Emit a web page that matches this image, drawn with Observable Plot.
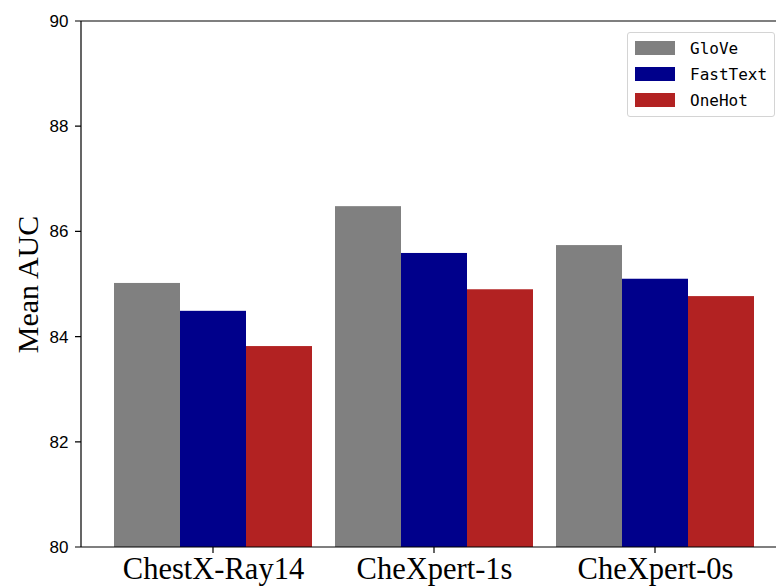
<!DOCTYPE html>
<html><head><meta charset="utf-8">
<script src="https://cdn.jsdelivr.net/npm/d3@7"></script>
<script src="https://cdn.jsdelivr.net/npm/@observablehq/plot@0.6"></script>
<style>
html,body{margin:0;padding:0;background:#fff;overflow:hidden}
#wrap{position:relative;width:776px;height:587px;overflow:hidden}
#chart svg{display:block}
#legend{position:absolute;left:627px;top:32px;width:148px;height:85px;border:1px solid #d4d4d4;border-radius:3px;background:rgba(255,255,255,0.85);box-sizing:border-box;font-family:"DejaVu Sans Mono",monospace;font-size:16px;color:#000}
.row{position:absolute;left:7px;height:20px;display:flex;align-items:center;white-space:nowrap}
.sw{width:40px;height:14px;margin-right:15px}
</style></head><body><div id="wrap"><div id="chart"></div><div id="legend"></div></div>
<script>
const datasets = ["ChestX-Ray14", "CheXpert-1s", "CheXpert-0s"];
const methods = ["GloVe", "FastText", "OneHot"];
const glove = [85.02, 86.48, 85.74];
const fasttext = [84.49, 85.59, 85.10];
const onehot = [83.82, 84.90, 84.77];
const colors = ["#808080", "#00008B", "#B22222"];
const yTicks = [80, 82, 84, 86, 88, 90];
const yDomain = [80, 90];
const yLabel = "Mean AUC";

const series = [glove, fasttext, onehot];
const data = datasets.flatMap((d, i) => methods.map((m, j) => ({dataset: d, method: m, value: series[j][i]})));

const W = 776, H = 587, ML = 81, MR = -12, MT = 21, MB = 40;
const PI = 0.095, PO = 0.145;
// the y axis is drawn at the first facet's left edge; shift it back to the frame's left edge
const step = (W - MR - ML) / (datasets.length - PI + 2 * PO);
const axisShift = -PO * step;
const serif = "'Liberation Serif', 'Times New Roman', serif";
const plot = Plot.plot({
  width: W, height: H, marginLeft: ML, marginRight: MR, marginTop: MT, marginBottom: MB,
  style: {fontFamily: "'Liberation Sans', Arial, sans-serif", fontSize: "16.7px", color: "#000", background: "#fff", overflow: "hidden"},
  fx: {domain: datasets, paddingInner: PI, paddingOuter: PO, label: null, axis: null},
  x: {domain: methods, padding: 0, axis: null},
  y: {domain: yDomain, ticks: yTicks, label: null},
  color: {domain: methods, range: colors},
  marks: [
    Plot.barY(data, {fx: "dataset", x: "method", y1: yDomain[0], y2: "value", fill: "method"}),
    Plot.axisY({ticks: yTicks, tickSize: 0, tickPadding: 13, fontSize: 17, label: null, dx: axisShift}),
    Plot.axisY({ticks: [], tickSize: 0, label: yLabel, labelAnchor: "center", labelOffset: 97, labelArrow: "none", fontSize: 30, fontFamily: serif}),
    Plot.axisFx({anchor: "bottom", tickSize: 0, tickPadding: 10, fontSize: 30.5, fontFamily: serif, label: null})
  ]
});
document.getElementById("chart").appendChild(plot);

// axis spines (left, top, bottom) plus tick marks
const ys = plot.scale("y");
const yTop = ys.apply(yDomain[1]), yBot = ys.apply(yDomain[0]);
let d = `M${W},${yTop}H${ML}V${yBot}H${W}`;
for (const t of yTicks) d += `M${ML - 6},${ys.apply(t)}H${ML}`;
try {
  const fxs = plot.scale("fx");
  const bw = fxs.bandwidth ?? 0;
  for (const c of datasets) d += `M${fxs.apply(c) + bw / 2},${yBot}V${yBot + 6}`;
} catch (e) {}
d3.select(plot).append("path")
  .attr("d", d)
  .attr("fill", "none").attr("stroke", "#000").attr("stroke-width", 1.2);

// legend
const leg = document.getElementById("legend");
methods.forEach((m, j) => {
  const r = document.createElement("div");
  r.className = "row";
  r.style.top = (5 + j * 26) + "px";
  r.innerHTML = `<div class="sw" style="background:${colors[j]}"></div><span>${m}</span>`;
  leg.appendChild(r);
});
</script></body></html>
